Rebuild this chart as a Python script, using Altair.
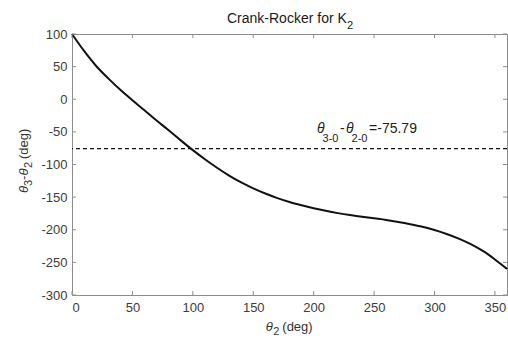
import altair as alt
import pandas as pd

# Crank angle (deg) and coupler-minus-crank angle (deg)
theta2 = [0, 10, 20, 30, 40, 50, 60, 70, 80, 90, 100, 110, 120, 130, 140, 150,
          160, 170, 180, 190, 200, 210, 220, 230, 240, 250, 260, 270, 280, 290,
          300, 310, 320, 330, 340, 350, 360]
theta_diff = [100, 74, 51, 32, 14.5, -1.5, -17, -32.5, -47.5, -63, -78, -92, -105,
              -117, -127.5, -136.5, -144.5, -151.5, -157.5, -162.5, -167, -171,
              -174.5, -177.5, -180, -182.5, -185, -188, -191.5, -195.5, -200.5,
              -206.5, -213.5, -222, -232.5, -245.5, -260]

initial_diff = -75.79
x_ticks = [0, 50, 100, 150, 200, 250, 300, 350]
y_ticks = [100, 50, 0, -50, -100, -150, -200, -250, -300]

W, H = 435, 261
FONT = "Liberation Sans"
TXT = "#333333"
AX = "#8c8c8c"

# plain hyphen for negative tick labels
HYPHEN = "datum.value < 0 ? '-' + abs(datum.value) : '' + datum.value"

curve_df = pd.DataFrame({"theta2": theta2, "diff": theta_diff})

x_scale = alt.Scale(domain=[0, 360], nice=False, zero=False)
y_scale = alt.Scale(domain=[-300, 100], nice=False, zero=False)

x_axis = alt.Axis(values=x_ticks, title=None, labelPadding=6, tickSize=0,
                  labelOverlap=False, labelExpr=HYPHEN)
y_axis = alt.Axis(values=y_ticks, title=None, labelPadding=5, tickSize=0,
                  labelOverlap=False, labelExpr=HYPHEN)


def X(field):
    return alt.X(field, scale=x_scale, axis=x_axis)


def Y(field):
    return alt.Y(field, scale=y_scale, axis=y_axis)


curve = alt.Chart(curve_df).mark_line(
    color="#111111", strokeWidth=2, interpolate="monotone"
).encode(x=X("theta2:Q"), y=Y("diff:Q"))

ref_df = pd.DataFrame({"v": [initial_diff]})
ref_line = alt.Chart(ref_df).mark_rule(
    color="#111111", strokeWidth=1.3, strokeDash=[4, 3]
).encode(y=Y("v:Q"))

# inward tick marks on all four sides
xt = pd.DataFrame({"t": x_ticks})
yt = pd.DataFrame({"t": y_ticks})
tick_style = dict(color=AX, strokeWidth=1)
ticks = [
    alt.Chart(xt).mark_rule(**tick_style).encode(
        x=X("t:Q"), y=alt.value(H), y2=alt.value(H - 4)),
    alt.Chart(xt).mark_rule(**tick_style).encode(
        x=X("t:Q"), y=alt.value(0), y2=alt.value(4)),
    alt.Chart(yt).mark_rule(**tick_style).encode(
        y=Y("t:Q"), x=alt.value(0), x2=alt.value(4)),
    alt.Chart(yt).mark_rule(**tick_style).encode(
        y=Y("t:Q"), x=alt.value(W), x2=alt.value(W - 4)),
]

# annotation for the dashed line: theta_{3-0} - theta_{2-0} = -75.79
ann_df = pd.DataFrame({"x": [202.8], "y": [-52.2]})
ann_parts = [
    ("\u03b8", 14, "italic", 0, 0),
    ("3-0", 11, "normal", 5.5, 8.5),
    ("-", 14, "normal", 23, 0),
    ("\u03b8", 14, "italic", 29, 0),
    ("2-0", 11, "normal", 34.5, 8.5),
    (f"={initial_diff}", 14, "normal", 52, 0),
]
ann = [
    alt.Chart(ann_df).mark_text(
        text=t, font=FONT, fontSize=fs, fontStyle=st, align="left",
        baseline="alphabetic", dx=dx, dy=dy, color="#222222"
    ).encode(x=X("x:Q"), y=Y("y:Q"))
    for t, fs, st, dx, dy in ann_parts
]


def label(text, x, y, size, style="normal", angle=0, dx=0, dy=0, color=TXT):
    kw = dict(text=text, font=FONT, fontSize=size, fontStyle=style,
              align="left", baseline="alphabetic", dx=dx, dy=dy, color=color)
    if angle:
        kw["angle"] = angle
    return alt.Chart(ref_df).mark_text(**kw).encode(x=alt.value(x), y=alt.value(y))


# chart title with subscript
title = [
    label("Crank-Rocker for K", 155, -11.5, 14, color="#1a1a1a"),
    label("2", 275, -5, 11, color="#1a1a1a"),
]

# x-axis title: theta_2 (deg)
xtitle = [
    label("\u03b8", 193.7, 296.5, 13, "italic"),
    label("2", 193.7, 296.5, 11, dx=7.5, dy=4.5),
    label("(deg)", 193.7, 296.5, 13, dx=16.6),
]

# y-axis title: theta_3 - theta_2 (deg), rotated
yx, yy = -44.5, 159
ytitle = [
    label("\u03b8", yx, yy, 13, "italic", angle=270),
    label("3", yx, yy, 11, angle=270, dx=7, dy=4.5),
    label("-", yx, yy, 13, angle=270, dx=13),
    label("\u03b8", yx, yy, 13, "italic", angle=270, dx=17.5),
    label("2", yx, yy, 11, angle=270, dx=25, dy=4.5),
    label("(deg)", yx, yy, 13, angle=270, dx=34),
]

chart = alt.layer(
    curve, ref_line, *ticks, *ann, *title, *xtitle, *ytitle
).properties(
    width=W, height=H,
    padding={"left": 72, "top": 34, "right": 1, "bottom": 43},
    autosize=alt.AutoSizeParams(type="none"),
    background="white",
).configure_view(
    stroke=AX, strokeWidth=1
).configure_axis(
    domain=False, ticks=False, grid=False,
    labelFont=FONT, labelFontSize=13, labelColor="#3c3c3c",
)

chart.save("out.html", embed_options={"renderer": "svg", "actions": False})
